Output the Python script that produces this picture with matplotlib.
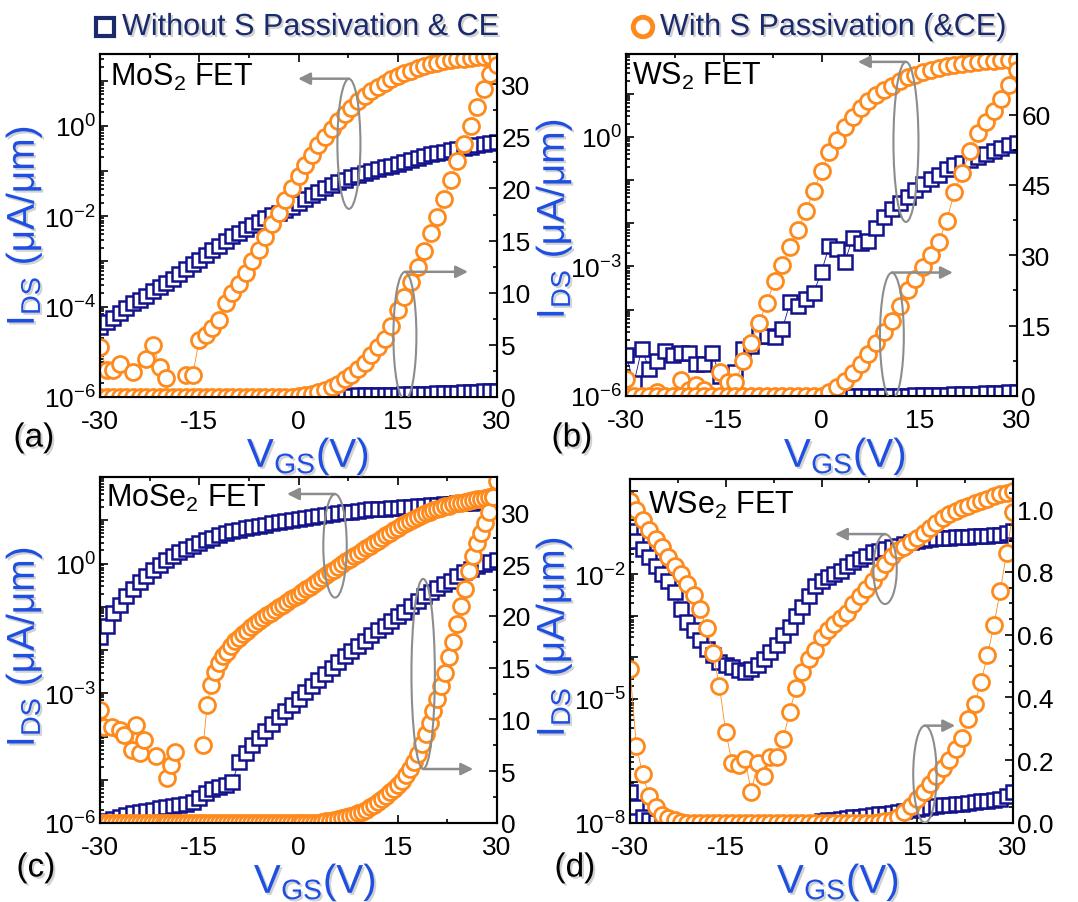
import numpy as np
import matplotlib
matplotlib.use("Agg")
import matplotlib.pyplot as plt
import matplotlib.patheffects as pe
from matplotlib.lines import Line2D
from matplotlib.patches import Ellipse
from matplotlib.ticker import LogLocator, MultipleLocator, NullFormatter

plt.rcParams["font.family"] = ["Liberation Sans", "DejaVu Sans"]
plt.rcParams["mathtext.default"] = "regular"
plt.rcParams["axes.unicode_minus"] = False

W, H = 1078, 903
NAVY = "#12128c"
ORANGE = "#ff8a1c"
LABEL_BLUE = "#1f4fe0"
HEAD_NAVY = "#1b2a6b"
GRAY = "#8c8c8c"
nan = np.nan

# gate voltage sweeps [V]
vgs_1v = np.linspace(-30, 30, 61)
vgs_ws2 = np.linspace(-30, 30, 51)
vgs_mose2_ce = np.linspace(-30, 30, 101)

# ---- (a) MoS2: log10 of I_DS on the left axis, I_DS on the right axis ----
mos2_sq_log = [-4.45, -4.35, -4.25, -4.15, -4.04, -3.93, -3.85, -3.76, -3.66, -3.57,
               -3.48, -3.38, -3.27, -3.17, -3.06, -2.96, -2.86, -2.75, -2.65, -2.55,
               -2.44, -2.36, -2.28, -2.20, -2.12, -2.04, -1.98, -1.93, -1.87, -1.80,
               -1.70, -1.62, -1.54, -1.46, -1.38, -1.30, -1.24, -1.19, -1.14, -1.09,
               -1.04, -1.00, -0.96, -0.92, -0.89, -0.85, -0.81, -0.76, -0.72, -0.67,
               -0.63, -0.60, -0.57, -0.54, -0.51, -0.48, -0.46, -0.43, -0.41, -0.38,
               -0.36]
mos2_sq_lin = [0.0] * 36 + [0.12, 0.13, 0.14, 0.15, 0.16, 0.18, 0.19, 0.2, 0.22, 0.23,
                            0.25, 0.27, 0.29, 0.31, 0.33, 0.35, 0.37, 0.39, 0.41, 0.44,
                            0.47, 0.5, 0.53, 0.56, 0.6]
mos2_ci_log = [-4.89, -5.41, -5.41, -5.26, nan, -5.44, nan, -5.15, -4.85, -5.33,
               -5.59, nan, nan, -5.52, -5.52, -4.74, -4.63, -4.48, -4.30, -3.93,
               -3.70, -3.50, -3.25, -3.00, -2.75, -2.45, -2.18, -1.92, -1.63, -1.37,
               -1.10, -0.87, -0.65, -0.43, -0.24, -0.08, 0.10, 0.26, 0.40, 0.55,
               0.67, 0.78, 0.87, 0.95, 1.03, 1.10, 1.17, 1.22, 1.27, 1.32,
               1.36, 1.40, 1.43, 1.46, 1.48, 1.49, 1.51, 1.52, 1.53, 1.54,
               1.55]
mos2_ci_lin = [0.0] * 28 + [0.01, 0.02,
                            0.05, 0.15, 0.3, 0.5, 0.65, 0.95, 1.25, 1.7, 2.1, 2.7,
                            3.3, 4.0, 4.8, 5.6, 6.8, 8.3, 9.6, 11.0, 12.5, 14.0,
                            15.7, 17.3, 19.0, 20.8, 22.6, 24.3, 26.0, 27.8, 29.5, 31.0,
                            31.8]

# ---- (b) WS2 ----
ws2_sq_log = [-5.04, -5.71, -4.92, -5.38, -5.19, -4.96, -5.04, -5.00, -5.00, -5.26,
              -5.26, -5.00, -5.53, -5.55, -5.45, -4.92, -4.85, -4.62, -4.62, -4.64,
              -4.44, -3.83, -3.91, -3.76, -3.61, -3.12, -2.52, -2.59, -2.89, -2.33,
              -2.45, -2.42, -2.12, -1.86, -1.68, -1.52, -1.38, -1.22, -1.10, -0.98,
              -0.88, -0.75, -0.66, -0.60, -0.54, -0.46, -0.40, -0.33, -0.25, -0.18,
              -0.14]
ws2_sq_lin = [0.0] * 29 + [0.01, 0.01, 0.01, 0.02, 0.03, 0.05, 0.07, 0.1, 0.14, 0.17,
                           0.2, 0.25, 0.3, 0.35, 0.4, 0.45, 0.5, 0.55, 0.6, 0.7,
                           0.8, 0.9]
ws2_ci_log = [-5.60, nan, nan, nan, -5.90, nan, nan, -5.62, -5.85, -5.75,
              -5.85, nan, -5.45, -5.68, -5.68, -5.19, -4.78, -4.30, -3.85, -3.33,
              -2.97, -2.55, -2.15, -1.72, -1.25, -0.80, -0.36, -0.06, 0.22, 0.46,
              0.66, 0.83, 0.97, 1.08, 1.19, 1.29, 1.38, 1.44, 1.50, 1.55,
              1.60, 1.65, 1.67, 1.69, 1.72, 1.73, 1.75, 1.76, 1.77, 1.77,
              1.78]
ws2_ci_lin = [0.0] * 26 + [0.8, 2.0, 3.2, 5.0, 6.9, 8.9, 11.3, 13.6, 16.0, 19.2,
                           22.6, 24.9, 27.5, 30.0, 32.9, 37.3, 43.5, 47.6, 52.2, 56.0,
                           58.4, 60.8, 63.4, 66.3, 69.5]

# ---- (c) MoSe2 ----
mose2_sq_log = [-1.70, -1.45, -1.15, -0.95, -0.75, -0.58, -0.43, -0.28, -0.14, -0.03,
                0.08, 0.18, 0.26, 0.34, 0.41, 0.48, 0.54, 0.60, 0.65, 0.70,
                0.74, 0.78, 0.81, 0.84, 0.87, 0.90, 0.93, 0.96, 0.98, 1.00,
                1.02, 1.05, 1.08, 1.10, 1.12, 1.14, 1.16, 1.18, 1.20, 1.22,
                1.24, 1.25, 1.26, 1.27, 1.28, 1.29, 1.30, 1.31, 1.32, 1.33,
                1.35, 1.36, 1.37, 1.38, 1.39, 1.40, 1.41, 1.42, 1.43, 1.43,
                1.44]
mose2_sq_lin = [0.1, 0.2, 0.4, 0.6, 0.8, 0.95, 1.1, 1.2, 1.3, 1.4,
                1.5, 1.6, 1.75, 1.85, 2.0, 2.4, 2.9, 3.3, 3.5, 3.65,
                4.0, 5.9, 6.8, 7.5, 8.2, 8.9, 9.6, 10.2, 10.8, 11.4,
                12.0, 12.6, 13.2, 13.8, 14.4, 15.0, 15.5, 16.1, 16.6, 17.1,
                17.6, 18.1, 18.6, 19.0, 19.5, 20.0, 20.4, 20.9, 21.4, 21.9,
                22.3, 22.7, 23.1, 23.4, 23.8, 24.2, 24.5, 24.8, 25.0, 25.2,
                25.4]
mose2_ci_log = [-3.38, -3.77, nan, -3.77, nan, -3.85, -3.96, nan, -4.31, -3.73,
                -4.38, -4.08, nan, nan, -4.46, nan, nan, -4.96, -4.65, -4.35,
                nan, nan, nan, nan, nan, nan, -4.19, -3.27, -2.81, -2.50,
                -2.30, -2.15, -2.04, -1.90, -1.80, -1.72, -1.63, -1.55, -1.47, -1.40,
                -1.33, -1.27, -1.20, -1.14, -1.07, -1.01, -0.95, -0.89, -0.83, -0.77,
                -0.72, -0.66, -0.60, -0.54, -0.47, -0.41, -0.34, -0.27, -0.20, -0.14,
                -0.07, -0.01, 0.05, 0.11, 0.17, 0.23, 0.29, 0.35, 0.41, 0.47,
                0.53, 0.59, 0.65, 0.71, 0.77, 0.83, 0.88, 0.93, 0.98, 1.03,
                1.08, 1.12, 1.16, 1.20, 1.23, 1.26, 1.29, 1.32, 1.34, 1.37,
                1.39, 1.41, 1.43, 1.45, 1.47, 1.49, 1.50, 1.52, 1.54, 1.56,
                1.58]
mose2_ci_lin = [0.0] * 56 + [0.1, 0.15, 0.2, 0.3, 0.35, 0.45, 0.55, 0.65, 0.8, 0.95,
                             1.1, 1.3, 1.5, 1.75, 2.0, 2.3, 2.6, 2.95, 3.3, 3.7,
                             4.1, 4.6, 5.2, 5.9, 6.7, 7.6, 8.6, 9.7, 10.8, 12.0,
                             13.2, 14.5, 16.0, 17.5, 19.2, 20.9, 22.6, 24.3, 25.8, 27.0,
                             28.0, 29.0, 30.0, 31.5, 33.0]

# ---- (d) WSe2 ----
wse2_sq_log = [-0.96, -1.20, -1.40, -1.60, -1.80, -2.00, -2.16, -2.44, -2.85, -3.16,
               -3.36, -3.60, -3.80, -3.96, -4.12, -4.20, -4.24, -4.32, -4.36, -4.28,
               -4.20, -4.04, -3.88, -3.72, -3.48, -3.28, -3.00, -2.80, -2.52, -2.28,
               -2.16, -2.08, -2.00, -1.92, -1.80, -1.72, -1.64, -1.56, -1.48, -1.44,
               -1.40, -1.36, -1.32, -1.28, -1.24, -1.20, -1.18, -1.16, -1.14, -1.13,
               -1.12, -1.11, -1.10, -1.10, -1.09, -1.08, -1.08, -1.07, -1.06, -1.00,
               -0.96]
wse2_sq_lin = ([0.1, 0.05, 0.02, 0.008, 0.004, 0.002] + [0.0] * 24 +
               [0.006, 0.008, 0.01, 0.012, 0.015, 0.018, 0.02, 0.022, 0.025, 0.028,
                0.03, 0.033, 0.036, 0.039, 0.042, 0.045, 0.048, 0.05, 0.053, 0.056,
                0.058, 0.06, 0.062, 0.064, 0.067, 0.069, 0.071, 0.073, 0.076, 0.085,
                0.1])
wse2_ci_log = [-0.25, -0.45, -0.70, -0.93, -1.15, -1.36, -1.58, -1.80, -2.00, -2.25,
               -2.50, -2.85, -3.30, -3.90, -4.70, -5.80, -6.55, -6.60, -6.45, -7.25,
               -6.55, -6.86, -6.40, -6.40, -5.98, -5.32, -4.75, -4.36, -4.05, -3.82,
               -3.51, -3.36, -3.21, -3.05, -2.94, -2.72, -2.54, -2.36, -2.16, -1.95,
               -1.75, -1.56, -1.43, -1.34, -1.23, -1.12, -1.00, -0.89, -0.77, -0.66,
               -0.56, -0.48, -0.41, -0.35, -0.29, -0.23, -0.18, -0.12, -0.08, -0.04,
               0.00]
wse2_ci_lin = ([0.49, 0.245, 0.155, 0.085, 0.05, 0.027, 0.015, 0.008, 0.004] +
               [0.0] * 30 +
               [0.003, 0.006, 0.01, 0.02, 0.035, 0.055, 0.075, 0.10, 0.125, 0.15,
                0.175, 0.20, 0.235, 0.27, 0.33, 0.38, 0.45, 0.535, 0.63, 0.74,
                0.86, 0.99])

shadow = [pe.withSimplePatchShadow(offset=(1.5, -1.5), shadow_rgbFace="0.55", alpha=0.4)]


def px_axes(fig, left, top, right, bottom):
    """Axes placed by its pixel box on the 1078x903 canvas."""
    return fig.add_axes([left / W, 1 - bottom / H, (right - left) / W, (bottom - top) / H])


def fig_text(fig, x, y, s, **kw):
    return fig.text(x / W, 1 - y / H, s, ha="center", va="center", **kw)


def draw_panel(fig, p):
    ax = px_axes(fig, *p["box"])
    ax2 = ax.twinx()

    sq = dict(marker="s", ms=10.5, mew=1.8, mfc="white", mec=NAVY, color=NAVY, lw=0.6)
    ci = dict(marker="o", ms=11.5, mew=2.0, mfc="white", mec=ORANGE, color=ORANGE, lw=0.6)

    ax.plot(p["x_sq"], 10.0 ** np.asarray(p["sq_log"]), **sq)
    ax.plot(p["x_ci"], 10.0 ** np.asarray(p["ci_log"]), **ci)
    ax2.plot(p["x_sq"], p["sq_lin"], **sq)
    ax2.plot(p["x_ci"], p["ci_lin"], **ci)

    ax.set_xlim(-30, 30)
    ax.set_xticks([-30, -15, 0, 15, 30])
    ax.xaxis.set_minor_locator(MultipleLocator(7.5))

    ax.set_yscale("log")
    ax.set_ylim(*p["log_lim"])
    decades = p["decades"]
    ax.set_yticks([10.0 ** d for d in decades],
                  ["10$^{%d}$" % d if d in p["labelled"] else "" for d in decades])
    ax.yaxis.set_minor_locator(LogLocator(base=10, subs=np.arange(2, 10), numticks=30))
    ax.yaxis.set_minor_formatter(NullFormatter())

    ax2.set_ylim(0, p["lin_top"])
    ax2.set_yticks(p["lin_ticks"])
    if p["lin_fmt"]:
        ax2.set_yticklabels([p["lin_fmt"] % t for t in p["lin_ticks"]])
    ax2.yaxis.set_minor_locator(MultipleLocator(p["lin_minor"]))

    ax.tick_params(which="both", direction="in", top=True, right=False,
                   labelsize=19, width=1.2, colors="black")
    ax.tick_params(which="major", length=6)
    ax.tick_params(which="minor", length=3)
    ax.tick_params(axis="y", pad=3)
    ax.tick_params(axis="x", pad=9)
    ax2.tick_params(which="both", direction="in", labelsize=19, width=1.2, pad=3)
    ax2.tick_params(which="major", length=6)
    ax2.tick_params(which="minor", length=3)
    for a in (ax, ax2):
        for s in a.spines.values():
            s.set_linewidth(1.5)

    # material name
    ax2.text(p["name_xy"][0], p["name_xy"][1], p["name"], transform=ax2.transAxes,
             fontsize=22, ha="left", va="center")

    # ellipses grouping the curves, with arrows pointing to their axis
    for cx, cy, ew, eh, ay, ax_end in p["groups"]:
        ax2.add_patch(Ellipse((cx, cy), ew, eh, transform=ax2.transAxes, fill=False,
                              ec=GRAY, lw=1.5, zorder=5))
        ax2.annotate("", xy=(ax_end, ay), xytext=(cx, ay), xycoords="axes fraction",
                     arrowprops=dict(arrowstyle="-|>", color=GRAY, lw=1.8,
                                     mutation_scale=18, shrinkA=0, shrinkB=0), zorder=5)

    # axis titles and panel letter
    fig_text(fig, *p["ylabel_xy"], "I$_{DS}$ (\u03bcA/\u03bcm)", fontsize=28,
             color=LABEL_BLUE, rotation=90, path_effects=shadow)
    fig_text(fig, *p["xlabel_xy"], "V$_{GS}$(V)", fontsize=29, color=LABEL_BLUE,
             path_effects=shadow)
    fig_text(fig, *p["letter_xy"], p["letter"], fontsize=24, path_effects=shadow)


panels = [
    dict(box=(100, 55, 497, 398), x_sq=vgs_1v, x_ci=vgs_1v,
         sq_log=mos2_sq_log, sq_lin=mos2_sq_lin, ci_log=mos2_ci_log, ci_lin=mos2_ci_lin,
         log_lim=(1e-6, 10 ** 1.59), decades=range(-6, 2), labelled=(-6, -4, -2, 0),
         lin_top=32.9, lin_ticks=np.arange(0, 31, 5), lin_fmt=None, lin_minor=2.5,
         name="MoS$_2$ FET", name_xy=(0.025, 0.936),
         groups=[(0.627, 0.738, 0.058, 0.379, 0.928, 0.499),
                 (0.768, 0.178, 0.058, 0.373, 0.365, 0.927)],
         ylabel_xy=(24, 227), xlabel_xy=(308, 457), letter_xy=(34, 439), letter="(a)"),
    dict(box=(626, 55, 1017, 397), x_sq=vgs_ws2, x_ci=vgs_ws2,
         sq_log=ws2_sq_log, sq_lin=ws2_sq_lin, ci_log=ws2_ci_log, ci_lin=ws2_ci_lin,
         log_lim=(1e-6, 10 ** 1.92), decades=range(-6, 2), labelled=(-6, -3, 0),
         lin_top=72.9, lin_ticks=np.arange(0, 61, 15), lin_fmt=None, lin_minor=7.5,
         name="WS$_2$ FET", name_xy=(0.015, 0.936),
         groups=[(0.716, 0.743, 0.064, 0.468, 0.977, 0.593),
                 (0.680, 0.175, 0.061, 0.371, 0.361, 0.836)],
         ylabel_xy=(554, 220), xlabel_xy=(845, 457), letter_xy=(572, 439), letter="(b)"),
    dict(box=(100, 478, 497, 824), x_sq=vgs_1v, x_ci=vgs_mose2_ce,
         sq_log=mose2_sq_log, sq_lin=mose2_sq_lin, ci_log=mose2_ci_log, ci_lin=mose2_ci_lin,
         log_lim=(1e-6, 1e2), decades=range(-6, 3), labelled=(-6, -3, 0),
         lin_top=33.4, lin_ticks=np.arange(0, 31, 5), lin_fmt=None, lin_minor=2.5,
         name="MoSe$_2$ FET", name_xy=(0.015, 0.942),
         groups=[(0.592, 0.801, 0.059, 0.299, 0.951, 0.471),
                 (0.814, 0.431, 0.059, 0.549, 0.156, 0.940)],
         ylabel_xy=(24, 648), xlabel_xy=(315, 883), letter_xy=(36, 869), letter="(c)"),
    dict(box=(630, 480, 1013, 824), x_sq=vgs_1v, x_ci=vgs_1v,
         sq_log=wse2_sq_log, sq_lin=wse2_sq_lin, ci_log=wse2_ci_log, ci_lin=wse2_ci_lin,
         log_lim=(1e-8, 10 ** 0.29), decades=range(-8, 1), labelled=(-8, -5, -2),
         lin_top=1.096, lin_ticks=np.arange(0, 1.01, 0.2), lin_fmt="%.1f", lin_minor=0.05,
         name="WSe$_2$ FET", name_xy=(0.047, 0.927),
         groups=[(0.666, 0.738, 0.061, 0.203, 0.840, 0.535),
                 (0.770, 0.142, 0.061, 0.282, 0.283, 0.849)],
         ylabel_xy=(554, 638), xlabel_xy=(838, 883), letter_xy=(575, 869), letter="(d)"),
]

fig = plt.figure(figsize=(W / 100, H / 100), dpi=100)

for p in panels:
    draw_panel(fig, p)

# legend header across the top
fig.add_artist(Line2D([105 / W], [1 - 28 / H], transform=fig.transFigure, marker="s",
                      ms=13, mew=3, mfc="white", mec=HEAD_NAVY, path_effects=shadow))
fig.text(122 / W, 1 - 28 / H, "Without S Passivation & CE", fontsize=22,
         color=HEAD_NAVY, ha="left", va="center", path_effects=shadow)
fig.add_artist(Line2D([643 / W], [1 - 28 / H], transform=fig.transFigure, marker="o",
                      ms=14, mew=3.5, mfc="white", mec=ORANGE, path_effects=shadow))
fig.text(660 / W, 1 - 28 / H, "With S Passivation (&CE)", fontsize=22,
         color=HEAD_NAVY, ha="left", va="center", path_effects=shadow)

fig.savefig("out.png", dpi=100)
